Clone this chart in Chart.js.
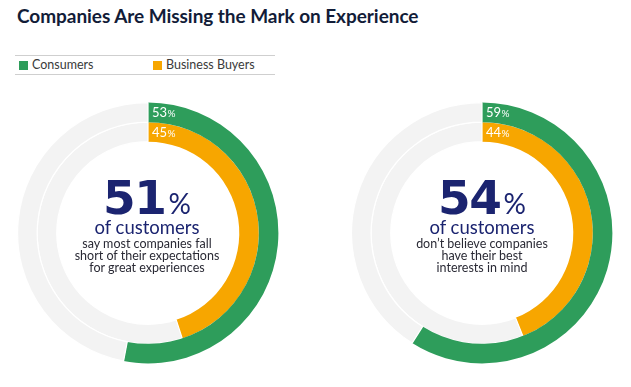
<!DOCTYPE html>
<html>
<head>
<meta charset="utf-8">
<script src="https://cdn.jsdelivr.net/npm/chart.js@4/dist/chart.umd.min.js"></script>
<style>
  html, body { margin: 0; padding: 0; background: #fff; }
  #page { position: relative; width: 631px; height: 387px; overflow: hidden; font-family: Lato, "Open Sans", sans-serif; }
  #title { position: absolute; left: 17px; top: 4px; font-size: 19px; font-weight: 700; color: #121c38; white-space: nowrap; letter-spacing: -0.05px; }
  #legend { position: absolute; left: 15px; top: 55px; width: 260px; height: 18px; border-top: 1px solid #cfcfcf; border-bottom: 1px solid #cfcfcf; }
  .lg { position: absolute; top: 0; height: 18px; line-height: 18px; font-size: 12.5px; color: #3a3a3a; white-space: nowrap; }
  .sw { display: inline-block; width: 9px; height: 9px; vertical-align: -1px; margin-right: 4px; }
  .cv { position: absolute; }
  .center { position: absolute; width: 220px; text-align: center; color: #1b2470; }
  .big { position: absolute; left: 0; width: 220px; font-family: "DejaVu Sans", sans-serif; font-size: 47px; line-height: 46px; font-weight: 700; letter-spacing: -1.5px; }
  .big .pct { font-family: Lato, sans-serif; font-size: 28px; line-height: 46px; font-weight: 400; letter-spacing: 0; margin-left: 3px; }
  .of { position: absolute; left: 0; width: 220px; font-size: 18.5px; line-height: 18px; font-weight: 400; }
  .sub { position: absolute; left: 0; width: 220px; font-size: 12.5px; line-height: 11.8px; color: #2a2a35; }
</style>
</head>
<body>
<div id="page">
  <div id="title"></div>
  <div id="legend"></div>
  <canvas id="c0" class="cv" width="262" height="262" style="left:17px;top:102px;width:262px;height:262px"></canvas>
  <canvas id="c1" class="cv" width="262" height="262" style="left:351px;top:102px;width:262px;height:262px"></canvas>
</div>
<script>
// ---- data ----
const titleText = "Companies Are Missing the Mark on Experience";
const seriesNames = ["Consumers", "Business Buyers"];
const seriesColors = ["#2e9d5b", "#f7a600"];
const trackColor = "#f3f3f3";
const consumers = [53, 59];
const businessBuyers = [45, 44];
const headline = [51, 54];
const headlineUnit = "%";
const headlineLabel = "of customers";
const subTexts = [
  ["say most companies fall", "short of their expectations", "for great experiences"],
  ["don\u2019t believe companies", "have their best", "interests in mind"]
];

// ---- title & legend ----
document.getElementById('title').textContent = titleText;
const legend = document.getElementById('legend');
const legendX = [4, 138];
seriesNames.forEach((n, i) => {
  const d = document.createElement('div');
  d.className = 'lg';
  d.style.left = legendX[i] + 'px';
  const s = document.createElement('span');
  s.className = 'sw';
  s.style.background = seriesColors[i];
  d.appendChild(s);
  d.appendChild(document.createTextNode(n));
  legend.appendChild(d);
});

// ---- arc value labels ----
const arcLabels = {
  id: 'arcLabels',
  afterDatasetsDraw(chart) {
    const ctx = chart.ctx;
    ctx.save();
    chart.data.datasets.forEach((ds, di) => {
      const el = chart.getDatasetMeta(di).data[0];
      const p = el.getProps(['x', 'y', 'innerRadius', 'outerRadius', 'startAngle'], true);
      const r = (p.innerRadius + p.outerRadius) / 2;
      const x = p.x + Math.cos(p.startAngle) * r + 4;
      const y = p.y + Math.sin(p.startAngle) * r + 5;
      ctx.fillStyle = '#ffffff';
      ctx.textBaseline = 'alphabetic';
      ctx.textAlign = 'left';
      ctx.font = '13px Lato, sans-serif';
      const num = String(ds.data[0]);
      ctx.fillText(num, x, y);
      const w = ctx.measureText(num).width;
      ctx.font = '10px Lato, sans-serif';
      ctx.fillText('%', x + w + 0.5, y);
    });
    ctx.restore();
  }
};

// ---- charts ----
[0, 1].forEach(i => {
  new Chart(document.getElementById('c' + i), {
    type: 'doughnut',
    data: {
      labels: ['value', 'rest'],
      datasets: [
        { label: seriesNames[0], data: [consumers[i], 100 - consumers[i]],
          backgroundColor: [seriesColors[0], trackColor], borderColor: '#ffffff', borderWidth: [0, 1.2] },
        { label: seriesNames[1], data: [businessBuyers[i], 100 - businessBuyers[i]],
          backgroundColor: [seriesColors[1], trackColor], borderColor: '#ffffff', borderWidth: [0, 1.2] }
      ]
    },
    options: {
      responsive: false,
      animation: false,
      cutout: '70%',
      layout: { padding: 0 },
      plugins: { legend: { display: false }, tooltip: { enabled: false } }
    },
    plugins: [arcLabels]
  });
});

// ---- center text ----
const centersX = [147, 482];
const page = document.getElementById('page');
[0, 1].forEach(i => {
  const c = document.createElement('div');
  c.className = 'center';
  c.style.left = (centersX[i] - 110) + 'px';
  c.style.top = '0px';
  const big = document.createElement('div');
  big.className = 'big';
  big.style.top = '175px';
  big.appendChild(document.createTextNode(String(headline[i])));
  const pct = document.createElement('span');
  pct.className = 'pct';
  pct.textContent = headlineUnit;
  big.appendChild(pct);
  c.appendChild(big);
  const of = document.createElement('div');
  of.className = 'of';
  of.style.top = '218px';
  of.textContent = headlineLabel;
  c.appendChild(of);
  const sub = document.createElement('div');
  sub.className = 'sub';
  sub.style.top = '238px';
  sub.innerHTML = subTexts[i].map(t => t.replace(/&/g, '&amp;').replace(/</g, '&lt;')).join('<br>');
  c.appendChild(sub);
  page.appendChild(c);
});
</script>
</body>
</html>
